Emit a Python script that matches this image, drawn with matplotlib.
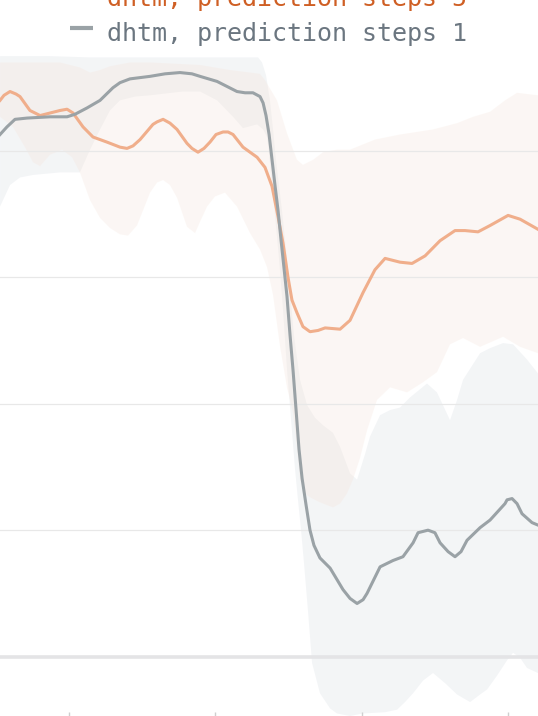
import numpy as np
from matplotlib import pyplot as plt

# steps (x) and metric values (y)
steps_1_x = [5.33, 5.80, 6.35, 7.17, 8.74, 9.90, 10.44, 11.26, 12.15, 13.03, 13.51, 14.19, 15.56,
             16.58, 17.60, 18.42, 18.97, 20.13, 21.49, 22.04, 22.58, 23.06, 23.27, 23.47, 23.68, 23.88, 24.08,
             24.29, 24.49, 24.70, 24.90, 25.11, 25.31, 25.52, 25.72, 25.93, 26.20, 26.47, 26.74,
             27.15, 27.84, 28.72, 29.20, 29.68, 30.09, 30.36, 31.25, 32.13, 32.81, 33.50, 33.84,
             34.52, 34.99, 35.34, 35.89, 36.36, 36.77, 37.18, 38.07, 38.75, 39.77, 39.91, 40.25,
             40.59, 40.93, 41.61, 42.02]
steps_1_y = [0.413, 0.419, 0.425, 0.426, 0.427, 0.427, 0.429, 0.434, 0.440, 0.450, 0.454, 0.457, 0.459,
             0.461, 0.462, 0.461, 0.459, 0.455, 0.447, 0.446, 0.446, 0.443, 0.438, 0.428, 0.413, 0.393, 0.373,
             0.353, 0.330, 0.307, 0.285, 0.254, 0.227, 0.195, 0.164, 0.141, 0.120, 0.100, 0.088,
             0.078, 0.070, 0.053, 0.046, 0.042, 0.045, 0.050, 0.071, 0.076, 0.079, 0.090, 0.098,
             0.100, 0.098, 0.090, 0.083, 0.079, 0.083, 0.092, 0.102, 0.108, 0.121, 0.124, 0.125,
             0.121, 0.113, 0.106, 0.104]

steps_5_x = [5.33, 5.60, 6.01, 6.42, 6.69, 7.37, 8.06, 8.74, 9.42, 9.90, 10.31, 10.99, 11.67, 12.62, 13.51,
             13.99, 14.40, 14.88, 15.76, 16.04, 16.45, 16.92, 17.40, 18.08, 18.42, 18.83, 19.24, 19.65,
             20.06, 20.54, 20.88, 21.22, 21.90, 22.86,
             23.40, 23.88, 24.29, 24.63, 24.97, 25.24, 25.58, 25.99, 26.47, 27.02, 27.50, 28.52,
             29.20, 30.09, 30.90, 31.59, 32.61, 33.43, 34.32, 35.34, 36.36, 37.04, 37.93, 38.75,
             39.98, 40.80, 42.02]
steps_5_y = [0.440, 0.444, 0.447, 0.445, 0.443, 0.432, 0.428, 0.430, 0.432, 0.433, 0.430, 0.419, 0.411, 0.407, 0.403,
             0.402, 0.404, 0.409, 0.421, 0.423, 0.425, 0.422, 0.417, 0.406, 0.402, 0.399, 0.402, 0.407,
             0.413, 0.415, 0.415, 0.413, 0.403, 0.395,
             0.387, 0.372, 0.348, 0.327, 0.300, 0.282, 0.272, 0.261, 0.257, 0.258, 0.260, 0.259,
             0.266, 0.288, 0.306, 0.315, 0.312, 0.311, 0.317, 0.329, 0.337, 0.337, 0.336, 0.341,
             0.349, 0.346, 0.338]

# min/max bands
band_1_hi_x = [5.33, 8.74, 11.47, 14.19, 17.60, 22.38, 22.93, 23.20, 23.47, 23.74, 23.95, 24.15,
               24.56, 24.97, 25.38, 25.79, 26.27, 26.81, 27.36, 28.04, 28.52, 29.20, 29.68, 30.22,
               30.56, 31.25, 31.93, 32.61, 33.29, 34.45, 35.13, 36.02, 36.50, 36.91, 38.07, 38.75,
               39.64, 40.32, 41.27, 42.02]
band_1_hi_y = [0.475, 0.475, 0.474, 0.474, 0.474, 0.474, 0.474, 0.470, 0.460, 0.440, 0.417, 0.393,
               0.353, 0.307, 0.254, 0.219, 0.199, 0.189, 0.183, 0.177, 0.166, 0.145, 0.140, 0.160,
               0.174, 0.191, 0.195, 0.197, 0.205, 0.216, 0.209, 0.187, 0.203, 0.219, 0.240, 0.244,
               0.248, 0.247, 0.235, 0.224]
band_1_lo_x = [5.33, 6.01, 6.69, 7.58, 9.42, 10.24, 10.78, 11.47, 12.15, 12.83, 13.51, 14.54, 15.56,
               17.81, 18.97, 20.13, 21.22, 21.90, 22.86, 23.27, 23.54, 23.68, 23.88, 24.08, 24.36,
               24.63, 24.90, 25.18, 25.45, 25.65, 25.86, 26.06, 26.34, 26.61, 27.15, 27.84, 28.31,
               29.20, 30.09, 31.59, 32.41, 32.95, 33.50, 34.18, 34.86, 35.68, 36.50, 37.39, 38.07,
               38.55, 39.23, 39.91, 40.32, 40.80, 41.27, 42.02]
band_1_lo_y = [0.356, 0.373, 0.379, 0.381, 0.383, 0.383, 0.383, 0.401, 0.417, 0.432, 0.440, 0.443, 0.444,
               0.447, 0.447, 0.440, 0.427, 0.418, 0.421, 0.417, 0.411, 0.397, 0.373, 0.349, 0.314,
               0.274, 0.227, 0.187, 0.148, 0.124, 0.100, 0.074, 0.035, -0.005, -0.029, -0.041, -0.045,
               -0.047, -0.045, -0.044, -0.042, -0.036, -0.029, -0.019, -0.013, -0.021, -0.030, -0.036, -0.030,
               -0.026, -0.015, -0.003, 0.003, -0.001, -0.009, -0.013]

band_5_hi_x = [5.33, 7.37, 9.42, 10.78, 11.47, 12.15, 12.83, 14.19, 15.56, 18.97, 21.01, 22.38, 23.06,
               23.40, 24.22, 24.90, 25.58, 25.99, 26.68, 27.36, 28.31, 29.20, 30.90, 32.61, 34.86,
               36.50, 37.59, 38.75, 39.77, 40.59, 42.02]
band_5_hi_y = [0.470, 0.470, 0.470, 0.466, 0.462, 0.464, 0.467, 0.470, 0.470, 0.468, 0.464, 0.462, 0.461,
               0.456, 0.440, 0.414, 0.393, 0.389, 0.393, 0.399, 0.401, 0.401, 0.409, 0.413, 0.417,
               0.422, 0.427, 0.431, 0.440, 0.446, 0.444]
band_5_lo_x = [5.33, 6.21, 7.03, 7.58, 8.06, 8.74, 9.56, 10.24, 10.78, 11.47, 12.15, 12.83, 13.51,
               14.06, 14.67, 15.22, 15.56, 16.04, 16.45, 16.92, 17.40, 18.08, 18.63, 18.97, 19.45,
               19.99, 20.67, 21.49, 22.38, 23.06, 23.54, 23.95, 24.43, 24.90, 25.31, 25.58, 25.79,
               26.13, 26.47, 27.15, 28.04, 28.52, 28.99, 29.40, 29.88, 30.36, 31.04, 31.93, 33.09,
               34.18, 35.13, 36.02, 36.91, 38.07, 39.64, 40.80, 42.02]
band_5_lo_y = [0.427, 0.419, 0.403, 0.391, 0.388, 0.397, 0.401, 0.395, 0.383, 0.361, 0.347, 0.339, 0.334,
               0.333, 0.341, 0.357, 0.367, 0.375, 0.377, 0.373, 0.363, 0.340, 0.335, 0.344, 0.356,
               0.364, 0.367, 0.356, 0.335, 0.322, 0.308, 0.286, 0.245, 0.213, 0.193, 0.166, 0.140,
               0.129, 0.126, 0.122, 0.118, 0.121, 0.129, 0.140, 0.157, 0.179, 0.203, 0.213, 0.209,
               0.217, 0.225, 0.247, 0.252, 0.245, 0.253, 0.245, 0.240]

x_ticks = [10, 20, 30, 40]
grid_vals = [0.1, 0.2, 0.3, 0.4]
labels = ['dhtm, prediction steps 5', 'dhtm, prediction steps 1']

GRAY = '#9aa2a6'
ORANGE = '#f0ae8b'

fig = plt.figure(figsize=(5.38, 7.16), dpi=100)
ax = fig.add_axes([0, 0, 1, 1])

def band(xh, yh, xl, yl, **kw):
    ax.fill(np.r_[xh, xl[::-1]], np.r_[yh, yl[::-1]], lw=0, **kw)

band(band_1_hi_x, band_1_hi_y, band_1_lo_x, band_1_lo_y, color='#8d9db0', alpha=0.1, zorder=1)
band(band_5_hi_x, band_5_hi_y, band_5_lo_x, band_5_lo_y, color='#f4e2d8', alpha=0.28, zorder=1.1)

for g in grid_vals:
    ax.axhline(g, color='#e8e8e8', lw=0.9, zorder=2)
ax.axhline(0, color='#e4e4e6', lw=2.6, zorder=2)

ax.plot(steps_5_x, steps_5_y, color=ORANGE, lw=2.2, solid_joinstyle='round', zorder=3)
ax.plot(steps_1_x, steps_1_y, color=GRAY, lw=2.2, solid_joinstyle='round', zorder=4)

ax.set_xlim(5.327, 42.02)
ax.set_ylim(-0.047, 0.5194)
ax.set_xticks(x_ticks)
ax.set_yticks([])
ax.tick_params(axis='x', direction='in', length=3, width=1, color='#cfcfcf', labelbottom=False)
for s in ax.spines.values():
    s.set_visible(False)

# legend, only its lower part is inside the crop
ax.plot([0.130, 0.173], [1.0091, 1.0091], transform=ax.transAxes, color=ORANGE, lw=3, solid_capstyle='butt', clip_on=False)
ax.plot([0.130, 0.173], [0.961, 0.961], transform=ax.transAxes, color=GRAY, lw=3, solid_capstyle='butt', clip_on=False)
ax.text(0.198, 0.9916, labels[0], transform=ax.transAxes, color='#cf5f24', fontsize=18,
        family='DejaVu Sans Mono', va='baseline', ha='left')
ax.text(0.198, 0.9432, labels[1], transform=ax.transAxes, color='#6b7680', fontsize=18,
        family='DejaVu Sans Mono', va='baseline', ha='left')

fig.savefig('out.png', dpi=100)
